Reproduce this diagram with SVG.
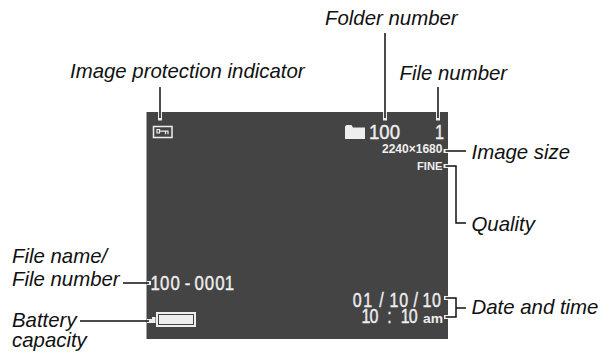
<svg xmlns="http://www.w3.org/2000/svg" width="601" height="352" viewBox="0 0 601 352">
<style>
.l{font-family:"Liberation Sans",Arial,sans-serif;font-style:italic;font-size:20.400px;fill:#111}
.s{font-family:"Liberation Sans",Arial,sans-serif;fill:#eee}
.w{stroke:#eee;stroke-width:.4}
.c{fill:none;stroke:#111;stroke-width:1.500}
.h{fill:none;stroke:#eee;stroke-width:4}
</style>
<rect width="601" height="352" fill="#fff"/>
<g id="screen"><rect x="146.500" y="112" width="301.500" height="227" fill="#444"/></g>
<g id="connectors">
<path class="h" d="M160 112V120.500M385 112V120.500M438 112V120.500M443.500 151H448M443.500 166H448M444 298H448M444 317H448M147 283H151M147 321H152"/>
<path class="c" d="M160 87V118M385 33V118M438 87V118M445.500 151H466M445.500 166H456V223H466M445.500 298H456V317H445.500M456 308H466M123 283H149M80 321H149"/>
</g>
<g id="image-protection"><rect x="153.500" y="126.500" width="18.500" height="11" fill="none" stroke="#eee" stroke-width="1.500"/><path d="M157 129.500h2.500v3.500H157zM159.500 131.200h9M165.500 131.200v3M168 131.200v3" fill="none" stroke="#eee" stroke-width="1.200"/><text class="l" x="70" y="78">Image protection indicator</text></g>
<g id="folder-number"><path d="M345 139V126.500l1.500-1.500h5l1.500 2.500H365V139Z" fill="#eee"/><text class="s w" x="369" y="139" font-size="20" textLength="31" lengthAdjust="spacingAndGlyphs">100</text><text class="l" x="325" y="25">Folder number</text></g>
<g id="file-number"><text class="s w" x="435" y="139" font-size="20" textLength="9" lengthAdjust="spacingAndGlyphs">1</text><text class="l" x="399.500" y="80">File number</text></g>
<g id="image-size"><text class="s" x="382" y="153" font-size="12" font-weight="bold" textLength="60.500" lengthAdjust="spacingAndGlyphs">2240×1680</text><text class="l" x="471.500" y="159">Image size</text></g>
<g id="quality"><text class="s" x="417" y="170" font-size="11.500" font-weight="bold" textLength="25.500" lengthAdjust="spacingAndGlyphs">FINE</text><text class="l" x="471.500" y="231">Quality</text></g>
<g id="file-name"><text class="s w" transform="scale(.8,1)" x="188 200 213 231 243 256 269 281" y="290" font-size="21">100-0001</text><text class="l"><tspan x="12" y="263">File name/</tspan><tspan x="12" y="286">File number</tspan></text></g>
<g id="battery"><rect x="157" y="313" width="38" height="13" fill="#444" stroke="#eee" stroke-width="2"/><rect x="159" y="315" width="34" height="9" fill="#eee"/><rect x="152" y="317" width="3.500" height="6" fill="#eee"/><text class="l"><tspan x="12" y="327">Battery</tspan><tspan x="12" y="347">capacity</tspan></text></g>
<g id="date-time"><text class="s w" transform="scale(.8,1)" x="441 454 466 474 487 499 517 528 540" y="307" font-size="20">01 /10/10</text><text class="s w" transform="scale(.8,1)" x="452 462 473 484 492 501 511" y="323" font-size="20">10 : 10</text><text class="s" x="423" y="323" font-size="12" font-weight="bold" textLength="20" lengthAdjust="spacingAndGlyphs">am</text><text class="l" x="471.500" y="314">Date and time</text></g>
</svg>
